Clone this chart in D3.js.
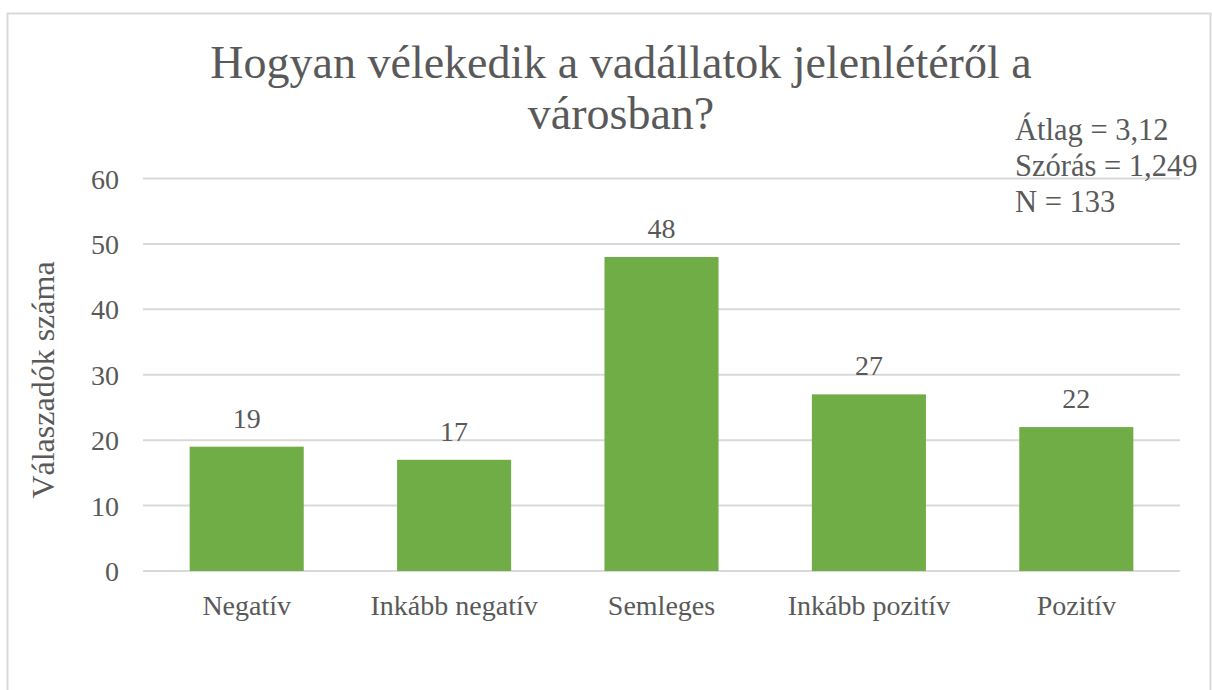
<!DOCTYPE html>
<html>
<head>
<meta charset="utf-8">
<script src="https://cdn.jsdelivr.net/npm/d3@7"></script>
<style>
  html, body { margin: 0; padding: 0; background: #fff; }
  svg { display: block; }
  text { font-family: "Liberation Serif", "Times New Roman", serif; fill: #595959; }
</style>
</head>
<body>
<svg id="chart" width="1212" height="690"></svg>
<script>
const categories = ["Negatív", "Inkább negatív", "Semleges", "Inkább pozitív", "Pozitív"];
const values = [19, 17, 48, 27, 22];
const yTicks = [0, 10, 20, 30, 40, 50, 60];
const titleLines = ["Hogyan vélekedik a vadállatok jelenlétéről a", "városban?"];
const statsLines = ["Átlag = 3,12", "Szórás = 1,249", "N = 133"];
const yTitle = "Válaszadók száma";

const svg = d3.select("#chart");
const W = 1212, H = 690;
const plot = { left: 143, right: 1180, top: 178.5, bottom: 571 };

// outer border
svg.append("rect").attr("x", 7.5).attr("y", 13.5).attr("width", W - 9).attr("height", H + 10)
  .attr("fill", "#fff").attr("stroke", "#d9d9d9").attr("stroke-width", 2);

const x = d3.scaleBand().domain(categories).range([plot.left, plot.right]).paddingInner(0.45).paddingOuter(0.225);
const y = d3.scaleLinear().domain([0, 60]).range([plot.bottom, plot.top]);

// gridlines
svg.append("g").selectAll("line").data(yTicks).join("line")
  .attr("x1", plot.left).attr("x2", plot.right)
  .attr("y1", d => y(d)).attr("y2", d => y(d))
  .attr("stroke", "#d9d9d9").attr("stroke-width", 2);

// y axis labels
const yAxis = d3.axisLeft(y).tickValues(yTicks).tickSize(0).tickPadding(24);
const gy = svg.append("g").attr("transform", `translate(${plot.left},0)`).call(yAxis);
gy.select(".domain").remove();
gy.selectAll("text").attr("font-size", 28).style("font-family", '"Liberation Serif", serif').attr("fill", "#595959").attr("dy", "0.34em");

// bars
svg.append("g").selectAll("rect").data(values).join("rect")
  .attr("x", (d, i) => x(categories[i]))
  .attr("width", x.bandwidth())
  .attr("y", d => y(d))
  .attr("height", d => y(0) - y(d))
  .attr("fill", "#70ad47");

// value labels
svg.append("g").selectAll("text").data(values).join("text")
  .attr("x", (d, i) => x(categories[i]) + x.bandwidth() / 2)
  .attr("y", d => y(d) - 19)
  .attr("text-anchor", "middle").attr("font-size", 28)
  .text(d => d);

// x axis labels
const xAxis = d3.axisBottom(x).tickSize(0).tickPadding(0);
const gx = svg.append("g").attr("transform", `translate(0,${plot.bottom})`).call(xAxis);
gx.select(".domain").remove();
gx.selectAll("text").attr("font-size", 28).style("font-family", '"Liberation Serif", serif').attr("fill", "#595959")
  .attr("dy", null).attr("y", 44);

// title
svg.append("g").selectAll("text").data(titleLines).join("text")
  .attr("x", 621).attr("y", (d, i) => 78 + i * 51)
  .attr("text-anchor", "middle").attr("font-size", 46)
  .text(d => d);

// stats
svg.append("g").selectAll("text").data(statsLines).join("text")
  .attr("x", 1015).attr("y", (d, i) => 140 + i * 36)
  .attr("font-size", 30.5)
  .text(d => d);

// y title
svg.append("text")
  .attr("transform", "translate(54,380) rotate(-90)")
  .attr("text-anchor", "middle").attr("font-size", 32)
  .text(yTitle);
</script>
</body>
</html>
